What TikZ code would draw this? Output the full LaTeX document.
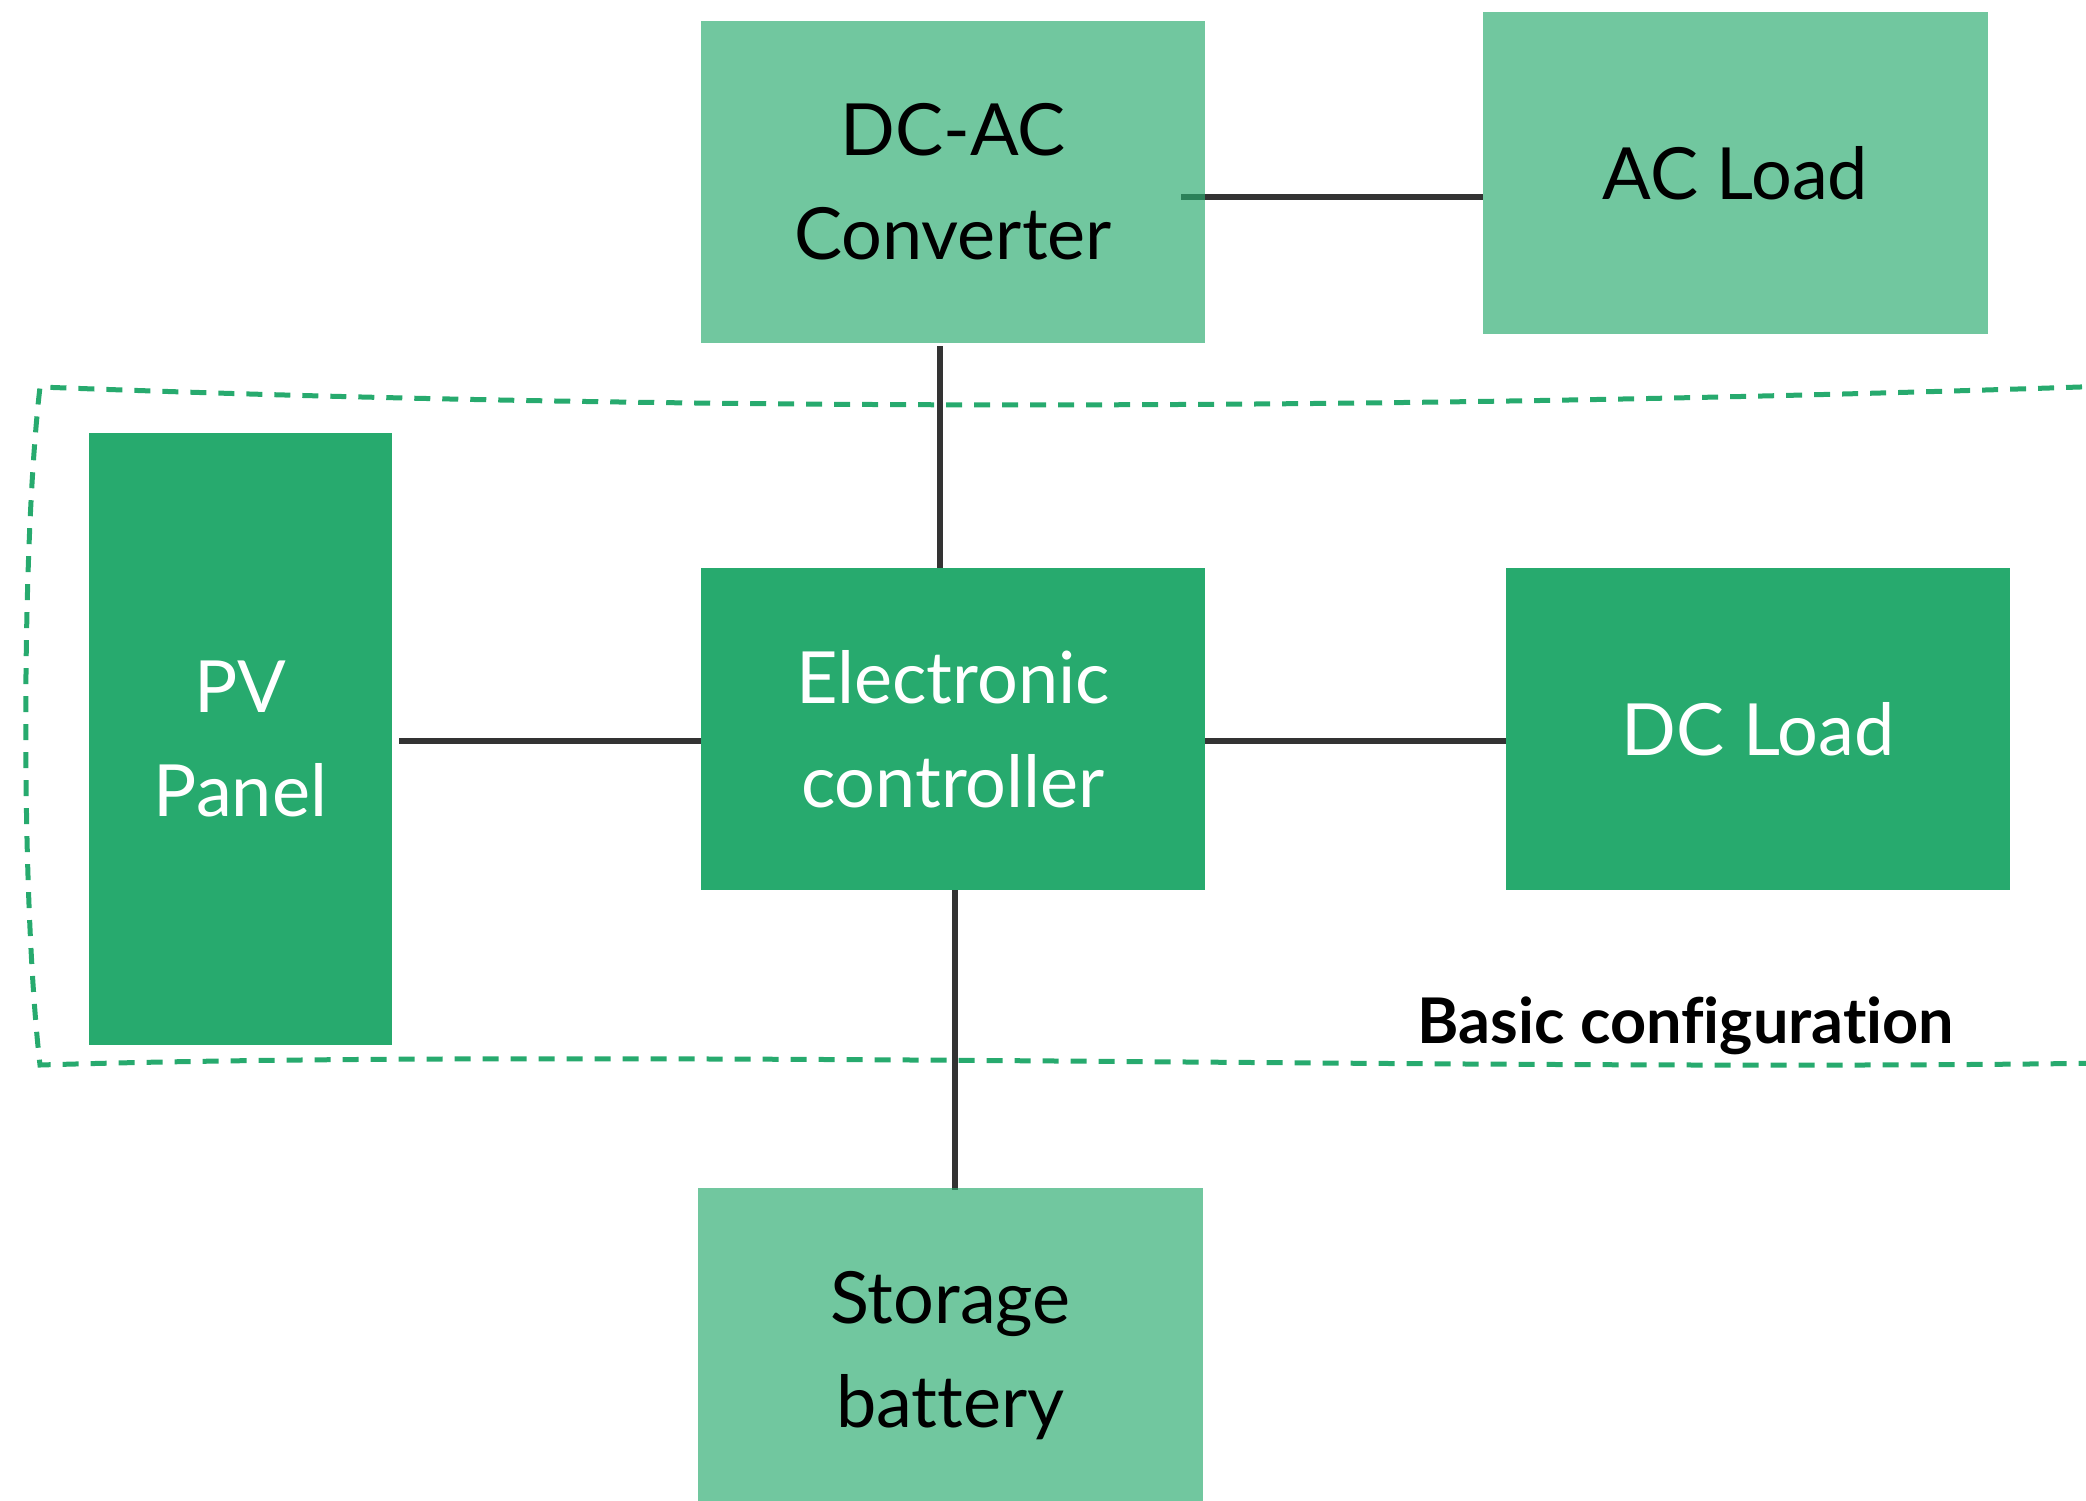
\documentclass[tikz,border=0pt]{standalone}
\usepackage{fontspec}
\setmainfont{Lato}[Ligatures={NoCommon,NoRequired}]
\usetikzlibrary{backgrounds}
\definecolor{dkgreen}{RGB}{39,170,110}
\definecolor{linegray}{RGB}{51,51,51}
\begin{document}
\begin{tikzpicture}[x=1pt,y=-1pt,
  box/.style={rectangle, inner sep=0pt, align=center, font=\fontsize{72}{104}\selectfont},
  dark/.style={box, fill=dkgreen, text=white},
  light/.style={box, fill=dkgreen, fill opacity=0.66, text opacity=1, text=black},
  conn/.style={draw=linegray, line width=6pt},
  bound/.style={draw=dkgreen, line width=5pt, dash pattern=on 16pt off 12pt}]
\useasboundingbox (0,0) rectangle (2086,1500);
\clip (0,0) rectangle (2086,1500);
\node[light, minimum width=504pt, minimum height=322pt] (conv) at (953,182) {DC-AC\\Converter};
\node[light, minimum width=505pt, minimum height=322pt] (acload) at (1735.5,173) {AC Load};
\node[dark, minimum width=303pt, minimum height=612pt] (pv) at (240.5,738.5) {PV\\Panel};
\node[dark, minimum width=504pt, minimum height=322pt] (ctrl) at (953,729) {Electronic\\controller};
\node[dark, minimum width=504pt, minimum height=322pt] (dcload) at (1758,729) {DC Load};
\node[light, minimum width=505pt, minimum height=336pt] (batt) at (950.5,1356) {Storage\\battery};
\node[font=\fontsize{63}{80}\selectfont\bfseries, anchor=base, inner sep=0pt] (basic) at (1686,1043) {Basic configuration};
\coordinate (h1) at (0,741);
\coordinate (h2) at (0,197);
\coordinate (v1) at (940,0);
\coordinate (v2) at (955,0);
\begin{scope}[on background layer]
\draw[bound] (2110,386) .. controls (1400,410) and (700,412) .. (40,387)
  .. controls (21,550) and (21,900) .. (40,1065)
  .. controls (600,1048) and (1500,1072) .. (2110,1063);
\draw[conn, shorten <=7pt] (pv.east |- h1) -- (ctrl.west |- h1);
\draw[conn] (ctrl.east |- h1) -- (dcload.west |- h1);
\draw[conn, shorten <=-24pt] (conv.east |- h2) -- (acload.west |- h2);
\draw[conn, shorten <=3pt] (conv.south -| v1) -- (ctrl.north -| v1);
\draw[conn, shorten <=-3pt, shorten >=-2pt] (ctrl.south -| v2) -- (batt.north -| v2);
\end{scope}
\end{tikzpicture}
\end{document}
